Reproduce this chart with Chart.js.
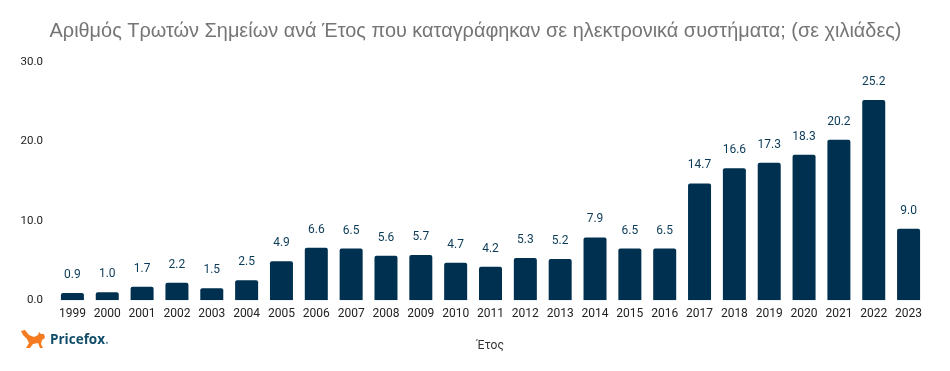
<!DOCTYPE html>
<html>
<head>
<meta charset="utf-8">
<style>
  html, body { margin: 0; padding: 0; background: #fff; }
  #wrap { position: relative; width: 950px; height: 371px; overflow: hidden; }
  #logo { position: absolute; left: 20px; top: 329px; display: flex; align-items: center; }
  #logo span { font: 700 13.5px "Open Sans", sans-serif; color: #0f4c68; margin-left: 3px; letter-spacing: 0; }
  #logo i { font-style: normal; color: #7aa3b5; }
</style>
</head>
<body>
<div id="wrap">
  <canvas id="myChart" width="950" height="371"></canvas>
  <div id="logo">
    <svg width="27" height="20" viewBox="0 0 27 20">
      <path fill="#f47b20" d="M1 2 L5 1 L9 6 L14 8 L18 6 L19 3 L21 5 L24 5 L25 9 L22 11 L21 15 L23 19 L20 19 L18 14 L13 15 L10 19 L6 19 L9 14 L7 10 L3 6 Z"/>
    </svg>
    <span>Pricefox<i>.</i></span>
  </div>
</div>
<script src="https://cdn.jsdelivr.net/npm/chart.js@4"></script>
<script>
const years = ['1999','2000','2001','2002','2003','2004','2005','2006','2007','2008','2009','2010','2011','2012','2013','2014','2015','2016','2017','2018','2019','2020','2021','2022','2023']
const cves = [0.9,1.0,1.7,2.2,1.5,2.5,4.9,6.6,6.5,5.6,5.7,4.7,4.2,5.3,5.2,7.9,6.5,6.5,14.7,16.6,17.3,18.3,20.2,25.2,9.0]
const yTicks = [0,10,20,30]
const titleText = 'Αριθμός Τρωτών Σημείων ανά Έτος που καταγράφηκαν σε ηλεκτρονικά συστήματα; (σε χιλιάδες)'

// value labels above the bars
const barLabels = {
    id: 'barLabels',
    afterLayout(chart) {
        // the title sits a bit right of the canvas middle
        chart.titleBlock.left = 25
    },
    afterDatasetsDraw(chart) {
        const ctx = chart.ctx
        ctx.save()
        ctx.font = '12px Roboto'
        ctx.fillStyle = '#0a3a57'
        ctx.textAlign = 'center'
        ctx.textBaseline = 'bottom'
        chart.getDatasetMeta(0).data.forEach((bar, i) => {
            ctx.fillText(cves[i].toFixed(1), bar.x, bar.y - 12)
        })
        ctx.restore()
    }
}

new Chart(document.getElementById('myChart'), {
    type: 'bar',
    data: {
        labels: years,
        datasets: [{
            data: cves,
            backgroundColor: '#00304f',
            borderRadius: 2,
            borderSkipped: 'bottom',
            barPercentage: 0.66,
            categoryPercentage: 1
        }]
    },
    options: {
        responsive: false,
        animation: false,
        layout: { padding: { top: 20, right: 24, bottom: 18, left: 0 } },
        plugins: {
            legend: { display: false },
            tooltip: { enabled: false },
            title: {
                display: true,
                text: titleText,
                color: '#757575',
                font: { family: 'Liberation Sans', size: 19.9, weight: 'normal' },
                padding: { top: 0, bottom: 18 }
            }
        },
        scales: {
            x: {
                grid: { display: false },
                border: { display: false },
                ticks: { color: '#222', font: { family: 'Roboto', size: 12 }, maxRotation: 0, autoSkip: false, padding: -1 },
                title: { display: true, text: 'Έτος', color: '#333', font: { family: 'Roboto', size: 12 }, padding: { top: 18, bottom: 0 } }
            },
            y: {
                min: 0,
                max: 30,
                afterFit(axis) { axis.width = 55 },
                afterBuildTicks(axis) { axis.ticks = yTicks.map(v => ({ value: v })) },
                grid: { display: false },
                border: { display: false },
                ticks: { color: '#222', font: { family: 'Roboto', size: 11.5 }, padding: 4, callback: v => v.toFixed(1) }
            }
        }
    },
    plugins: [barLabels]
})
</script>
</body>
</html>
